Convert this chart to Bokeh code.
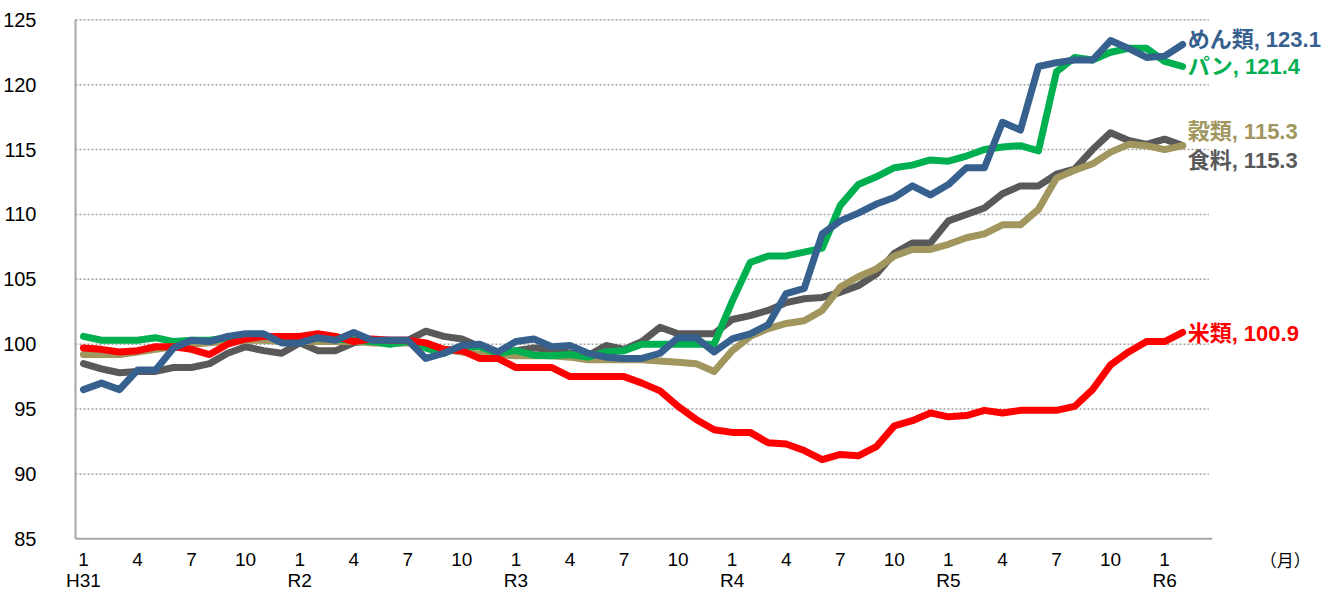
from bokeh.plotting import figure
from bokeh.models import Range1d, FixedTicker, Label, ColumnDataSource
from bokeh.core.properties import value
from bokeh.embed import file_html
from bokeh.resources import INLINE

# ---- data (monthly index, H31.1 = first point, last = R6.2) ----
rice = [99.7, 99.6, 99.4, 99.5, 99.8, 99.8, 99.6, 99.2, 100.0, 100.4, 100.6, 100.6,
        100.6, 100.8, 100.6, 100.2, 100.4, 100.3, 100.3, 100.1, 99.6, 99.5, 98.9, 98.9,
        98.2, 98.2, 98.2, 97.5, 97.5, 97.5, 97.5, 97.0, 96.4, 95.2, 94.2, 93.4,
        93.2, 93.2, 92.4, 92.3, 91.8, 91.1, 91.5, 91.4, 92.1, 93.7, 94.1, 94.7,
        94.4, 94.5, 94.9, 94.7, 94.9, 94.9, 94.9, 95.2, 96.5, 98.4, 99.4, 100.2,
        100.2, 100.9]
bread = [100.6, 100.3, 100.3, 100.3, 100.5, 100.2, 100.3, 100.3, 100.5, 100.6, 100.6, 100.6,
         100.6, 100.5, 100.4, 100.3, 100.2, 100.0, 100.2, 99.7, 99.3, 99.8, 99.8, 99.3,
         99.5, 99.15, 99.1, 99.2, 99.0, 99.4, 99.5, 100.0, 100.0, 100.0, 100.0, 100.0,
         103.3, 106.3, 106.8, 106.8, 107.1, 107.4, 110.7, 112.3, 112.9, 113.6, 113.8, 114.2,
         114.1, 114.5, 115.0, 115.2, 115.3, 114.9, 121.0, 122.1, 121.9, 122.5, 122.8, 122.8,
         121.8, 121.4]
noodles = [96.5, 97.0, 96.5, 98.0, 98.0, 99.7, 100.3, 100.2, 100.6, 100.8, 100.8, 100.1,
           100.1, 100.5, 100.3, 100.9, 100.3, 100.3, 100.3, 98.9, 99.3, 99.9, 100.0, 99.4,
           100.2, 100.4, 99.8, 99.9, 99.3, 99.0, 98.9, 98.9, 99.3, 100.5, 100.5, 99.4,
           100.4, 100.8, 101.5, 103.9, 104.3, 108.5, 109.5, 110.1, 110.8, 111.3, 112.2, 111.5,
           112.3, 113.6, 113.6, 117.1, 116.5, 121.4, 121.7, 121.9, 121.9, 123.4, 122.8, 122.1,
           122.2, 123.1]
food = [98.5, 98.1, 97.8, 97.9, 97.9, 98.2, 98.2, 98.5, 99.3, 99.8, 99.5, 99.3,
        100.1, 99.5, 99.5, 100.1, 100.3, 100.3, 100.3, 101.0, 100.6, 100.4, 99.8, 99.2,
        99.5, 99.7, 99.6, 99.3, 99.1, 99.9, 99.6, 100.2, 101.3, 100.8, 100.8, 100.8,
        101.9, 102.2, 102.6, 103.2, 103.5, 103.6, 104.0, 104.5, 105.4, 107.0, 107.8, 107.8,
        109.5, 110.0, 110.5, 111.6, 112.2, 112.2, 113.1, 113.5, 115.0, 116.3, 115.7, 115.4,
        115.8, 115.3]
cereals = [99.2, 99.2, 99.2, 99.4, 99.6, 99.8, 100.0, 100.1, 100.2, 100.3, 100.3, 100.2,
           100.2, 100.2, 100.2, 100.2, 100.1, 100.1, 100.1, 99.9, 99.6, 99.4, 99.2, 99.2,
           99.1, 99.1, 99.1, 99.0, 98.8, 98.8, 98.8, 98.8, 98.7, 98.6, 98.5, 97.9,
           99.5, 100.6, 101.2, 101.6, 101.8, 102.6, 104.4, 105.2, 105.8, 106.8, 107.3, 107.3,
           107.7, 108.2, 108.5, 109.2, 109.2, 110.4, 112.8, 113.4, 113.9, 114.8, 115.4, 115.3,
           115.0, 115.3]

series_names = ["食料", "穀類", "パン", "米類", "めん類"]
series_values = [food, cereals, bread, rice, noodles]
series_colors = ["#595959", "#A0965E", "#00B050", "#FF0000", "#36618F"]
end_values = [115.3, 115.3, 121.4, 100.9, 123.1]
label_shift_px = [-15, 14, 0, -1, 5]

month_ticks = list(range(0, 61, 3))
month_labels = ["1", "4", "7", "10"] * 5 + ["1"]
unit_label = "（月）"
year_ticks = [0, 12, 24, 36, 48, 60]
year_labels = ["H31", "R2", "R3", "R4", "R5", "R6"]
y_ticks = [85, 90, 95, 100, 105, 110, 115, 120, 125]
grid_values = [90, 95, 100, 105, 110, 115, 120, 125]

# ---- layout constants ----
W, H = 1324, 591
LEFT, TOP = 52, 18
AXIS_X = -0.44                     # where the value axis sits on the category scale
X_HI = 62.45                       # right end of the plotting area
PX_PER_X = 18.02
X_LO = AXIS_X - (75 - LEFT) / PX_PER_X
X_END = X_LO + (W - LEFT) / PX_PER_X
UNIT_POS = 66.7                    # position of the unit mark on the category axis
PX_PER_Y = 12.975                  # pixels per index point
Y_TOP = 125.1
Y_BOT = Y_TOP - (H - TOP) / PX_PER_Y
ROW1_PX, ROW2_PX = 21, 42          # label rows below the 85 line (pixels)
row1_y = 85 - ROW1_PX / PX_PER_Y
row2_y = 85 - ROW2_PX / PX_PER_Y

TICK_FONT = "'Liberation Sans', Arial, sans-serif"
LABEL_FONT = "'Liberation Sans', 'Noto Sans CJK JP', sans-serif"
JP_FONT = "'Noto Sans CJK JP', sans-serif"

p = figure(width=W, height=H, output_backend="svg", toolbar_location=None,
           x_range=Range1d(X_LO, X_END), y_range=Range1d(Y_BOT, Y_TOP),
           min_border_left=LEFT, min_border_right=0, min_border_top=TOP,
           min_border_bottom=0)
p.outline_line_color = None
p.background_fill_color = "white"
p.grid.grid_line_color = None
p.xaxis.visible = False

# y axis (labels end ~33px left of the value-axis line)
p.yaxis.ticker = FixedTicker(ticks=y_ticks)
p.yaxis.axis_line_color = None
p.yaxis.major_tick_line_color = None
p.yaxis.minor_tick_line_color = None
p.yaxis.major_label_standoff = 33 - (75 - LEFT)
p.yaxis.major_label_text_font = TICK_FONT
p.yaxis.major_label_text_font_size = "20px"
p.yaxis.major_label_text_color = "#000000"

# dotted horizontal gridlines, limited to the category area
p.segment(x0=[AXIS_X] * len(grid_values), x1=[X_HI] * len(grid_values),
          y0=grid_values, y1=grid_values, line_color="#A0A0A0",
          line_dash="2 2", line_width=1.5)
# axis lines
p.segment(x0=[AXIS_X], x1=[X_HI + 0.2], y0=[85], y1=[85], line_color="#A6A6A6", line_width=2)
p.segment(x0=[AXIS_X], x1=[AXIS_X], y0=[85], y1=[125], line_color="#A6A6A6", line_width=2)

# category axis labels (month row, era row, unit)
p.text(x=month_ticks, y=[row1_y] * len(month_ticks), text=month_labels,
       text_font=value(TICK_FONT), text_font_size="19px", text_color="#000000",
       text_align="center", text_baseline="middle")
p.text(x=year_ticks, y=[row2_y] * len(year_ticks), text=year_labels,
       text_font=value(TICK_FONT), text_font_size="19px", text_color="#000000",
       text_align="center", text_baseline="middle")
p.text(x=[UNIT_POS], y=[row1_y], text=[unit_label],
       text_font=value(JP_FONT), text_font_size="17px", text_color="#000000",
       text_align="center", text_baseline="middle")

# lines
for name, vals, col in zip(series_names, series_values, series_colors):
    src = ColumnDataSource(dict(x=list(range(len(vals))), y=vals))
    p.line("x", "y", source=src, line_color=col, line_width=7,
           line_join="round", line_cap="round")

# end labels
for name, vals, col, ev, sh in zip(series_names, series_values, series_colors,
                                   end_values, label_shift_px):
    p.add_layout(Label(x=len(vals) - 1, y=vals[-1], x_offset=5, y_offset=sh,
                       text=f"{name}, {ev:.1f}", text_color=col,
                       text_font=LABEL_FONT, text_font_size="22px", text_font_style="bold",
                       text_baseline="middle", text_align="left"))

open("out.html", "w").write(file_html(p, INLINE))
